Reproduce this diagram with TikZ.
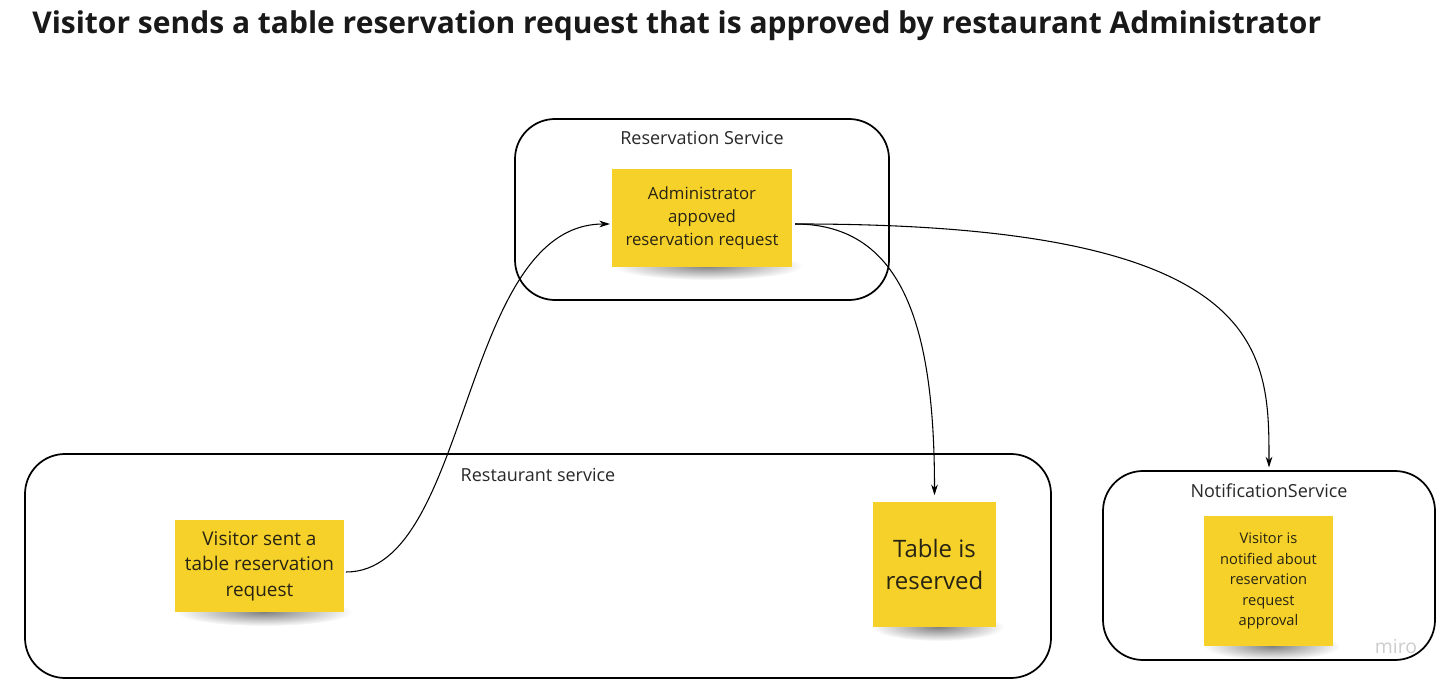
\documentclass[tikz,border=0pt]{standalone}
\usepackage{fontspec}
\setmainfont{Open Sans}
\usetikzlibrary{arrows.meta,fadings,calc}
\definecolor{sticky}{RGB}{245,209,42}
\definecolor{stxt}{RGB}{40,36,20}
\definecolor{lbl}{RGB}{40,40,40}
\definecolor{wm}{RGB}{205,205,205}
\tikzfading[name=softfade,inner color=transparent!0,outer color=transparent!100]
\begin{document}
\begin{tikzpicture}[x=0.75pt,y=-0.75pt,
  container/.style={draw=black,line width=1.3pt,rounded corners=30pt,inner sep=0pt},
  boxlabel/.style={text=lbl,font=\fontsize{13.5pt}{16pt}\selectfont,inner sep=0pt},
  stickynote/.style={fill=sticky,inner sep=0pt,align=center,text=stxt},
  softshadow/.style={fill=black,opacity=0.5,path fading=softfade},
  conn/.style={draw=black,line width=0.8pt,-{Stealth[length=8pt,width=5pt]}}
]
\useasboundingbox (0,0) rectangle (1453,688);
\fill[white] (0,0) rectangle (1453,688);

% title
\node[anchor=west,inner sep=0pt,font=\bfseries\fontsize{22.5pt}{26pt}\selectfont,text=black!90] (title) at (32,26)
  {Visitor sends a table reservation request that is approved by restaurant Administrator};

% containers
\node[container,minimum width=280.5pt,minimum height=135.75pt] (res) at (702,209.5) {};
\node[container,minimum width=769.5pt,minimum height=168pt] (rest) at (538,566) {};
\node[container,minimum width=249pt,minimum height=141.75pt] (notif) at (1269,565.5) {};

\node[boxlabel] (reslbl) at (702,138) {Reservation Service};
\node[boxlabel] (restlbl) at (538,475) {Restaurant service};
\node[boxlabel] (notiflbl) at (1269,491) {NotificationService};

% shadows
\fill[softshadow] (708,266) ellipse [x radius=95, y radius=14];
\fill[softshadow] (264,612) ellipse [x radius=88, y radius=14];
\fill[softshadow] (938,627) ellipse [x radius=66, y radius=14];
\fill[softshadow] (1272,646) ellipse [x radius=68, y radius=14];

% stickies
\node[stickynote,minimum width=135pt,minimum height=73.5pt,
  font=\fontsize{12.6pt}{17.3pt}\selectfont] (adm) at (702,218)
  {Administrator\\appoved\\reservation request};
\node[stickynote,minimum width=126.75pt,minimum height=69pt,
  font=\fontsize{14.2pt}{19pt}\selectfont] (vis) at (259.5,566)
  {Visitor sent a\\table reservation\\request};
\node[stickynote,minimum width=92.25pt,minimum height=93.75pt,
  font=\fontsize{18pt}{24pt}\selectfont] (tab) at (934.5,564)
  {Table is\\reserved};
\node[stickynote,minimum width=96.75pt,minimum height=97.5pt,
  font=\fontsize{11pt}{15.4pt}\selectfont] (vnot) at (1268.5,581)
  {Visitor is\\notified about\\reservation\\request\\approval};

% connectors
\coordinate (admout) at (795,224);
\coordinate (admin) at (610,224);
\coordinate (visout) at (346,572);
\draw[conn] (visout) .. controls ($(visout)+(125,0)$) and ($(admin)+(-150,0)$) .. (admin);
\draw[conn,shorten >=4.5pt] (admout) .. controls ($(admout)+(110,0)$) and ($(tab.north)+(0,-170)$) .. (tab.north);
\draw[conn,shorten >=2pt] (admout) .. controls ($(notif.north)+(0,-247)$) and ($(notif.north)+(0,-120)$) .. (notif.north);

% watermark
\node[text=wm,inner sep=0pt,font=\fontsize{14.5pt}{16pt}\selectfont] (miro) at (1396,646) {miro};
\end{tikzpicture}
\end{document}
